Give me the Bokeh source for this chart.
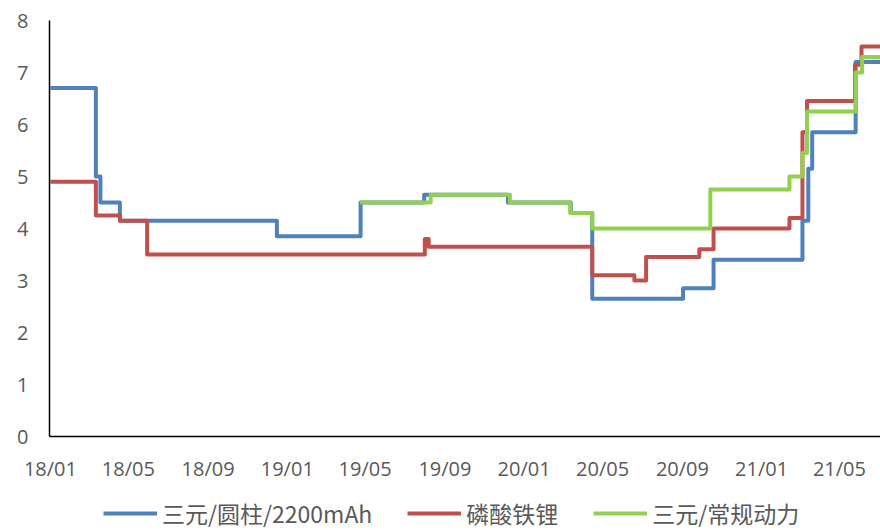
import pandas as pd
from bokeh.plotting import figure
from bokeh.models import Range1d, FixedTicker, DatetimeTickFormatter, Legend, LegendItem
from bokeh.embed import file_html
from bokeh.resources import INLINE

# ---------------- data ----------------
series_names = ["三元/圆柱/2200mAh", "磷酸铁锂", "三元/常规动力"]
series_colors = ["#4F81BD", "#C0504D", "#92D050"]

cyl_dates = ["2018-01-01", "2018-03-12", "2018-03-19", "2018-04-18", "2018-12-16",
             "2019-04-24", "2019-07-31", "2019-12-07", "2020-03-13", "2020-04-15",
             "2020-09-02", "2020-10-19", "2021-03-05", "2021-03-14", "2021-03-20",
             "2021-05-26", "2021-07-04"]
cyl_values = [6.7, 5.0, 4.5, 4.15, 3.85,
              4.5, 4.65, 4.5, 4.3, 2.65,
              2.85, 3.4, 4.15, 5.15, 5.85,
              7.2, 7.2]

lfp_dates = ["2018-01-01", "2018-03-12", "2018-04-18", "2018-05-30", "2019-08-01",
             "2019-08-07", "2020-04-15", "2020-06-19", "2020-07-07", "2020-09-27",
             "2020-10-19", "2021-02-13", "2021-03-05", "2021-03-12", "2021-05-25",
             "2021-06-04", "2021-07-04"]
lfp_values = [4.9, 4.25, 4.15, 3.5, 3.8,
              3.65, 3.1, 3.0, 3.45, 3.6,
              4.0, 4.2, 5.85, 6.45, 7.15,
              7.5, 7.5]

ncm_dates = ["2019-04-23", "2019-08-10", "2019-12-10", "2020-03-12", "2020-04-15",
             "2020-10-14", "2021-02-13", "2021-03-05", "2021-03-12", "2021-05-26",
             "2021-06-05", "2021-07-04"]
ncm_values = [4.5, 4.65, 4.5, 4.3, 4.0,
              4.75, 5.0, 5.45, 6.25, 7.0,
              7.3, 7.3]

tick_dates = ["2018-01-01", "2018-05-01", "2018-09-01", "2019-01-01", "2019-05-01",
              "2019-09-01", "2020-01-01", "2020-05-01", "2020-09-01", "2021-01-01",
              "2021-05-01"]
tick_labels = ["18/01", "18/05", "18/09", "19/01", "19/05", "19/09", "20/01",
               "20/05", "20/09", "21/01", "21/05"]
y_ticks = [0, 1, 2, 3, 4, 5, 6, 7, 8]

# ---------------- figure ----------------
# The frame fills the whole page; the room left of the y axis, above 8 and below 0
# holds the tick labels and the legend (axes are pinned with fixed_location).
axis_start = pd.Timestamp("2017-12-30 12:00")
p = figure(
    x_axis_type="datetime",
    width=880, height=530,
    min_border_left=0, min_border_right=0, min_border_top=0, min_border_bottom=0,
    output_backend="svg", toolbar_location=None,
    x_range=Range1d(pd.Timestamp("2017-10-16"), pd.Timestamp("2021-07-03 07:00")),
    y_range=Range1d(-94 / 52, 8 + 20 / 52),
)
p.outline_line_color = None
p.xgrid.grid_line_color = None
p.ygrid.grid_line_color = None

tick_ms = [pd.Timestamp(d).value // 10**6 for d in tick_dates]
p.xaxis.ticker = FixedTicker(ticks=tick_ms)
p.xaxis.formatter = DatetimeTickFormatter(days="%y/%m", months="%y/%m", years="%y/%m")
p.xaxis.major_label_overrides = {t: lab for t, lab in zip(tick_ms, tick_labels)}
p.xaxis.fixed_location = 0
p.xaxis.bounds = (axis_start.value // 10**6, pd.Timestamp("2021-07-04").value // 10**6)
p.yaxis.ticker = FixedTicker(ticks=y_ticks)
p.yaxis.bounds = (0, 8)
p.yaxis.fixed_location = axis_start.value // 10**6

for ax in (p.xaxis[0], p.yaxis[0]):
    ax.axis_line_color = "black"
    ax.axis_line_width = 1.5
    ax.major_tick_line_color = None
    ax.minor_tick_line_color = None
    ax.major_tick_out = 0
    ax.major_tick_in = 0
    ax.minor_tick_out = 0
    ax.major_label_text_color = "#595959"
    ax.major_label_text_font = "Open Sans"
    ax.major_label_text_font_size = "20px"
p.xaxis.major_label_standoff = 18
p.yaxis.major_label_standoff = 21

renderers = []
for dates, vals, col in [(cyl_dates, cyl_values, series_colors[0]),
                         (lfp_dates, lfp_values, series_colors[1]),
                         (ncm_dates, ncm_values, series_colors[2])]:
    r = p.step(x=pd.to_datetime(dates), y=vals, mode="after", line_color=col,
               line_width=4, line_join="round")
    renderers.append(r)

legend = Legend(
    items=[LegendItem(label=n, renderers=[r]) for n, r in zip(series_names, renderers)],
    orientation="horizontal", location=(103, 0),
    glyph_width=54, glyph_height=24, label_height=24, label_standoff=5, spacing=35,
    padding=0, margin=0, border_line_color=None, background_fill_alpha=0,
    label_text_font="Noto Sans CJK SC", label_text_font_size="23px",
    label_text_color="#595959",
)
p.add_layout(legend, "center")

open("out.html", "w").write(file_html(p, INLINE))
